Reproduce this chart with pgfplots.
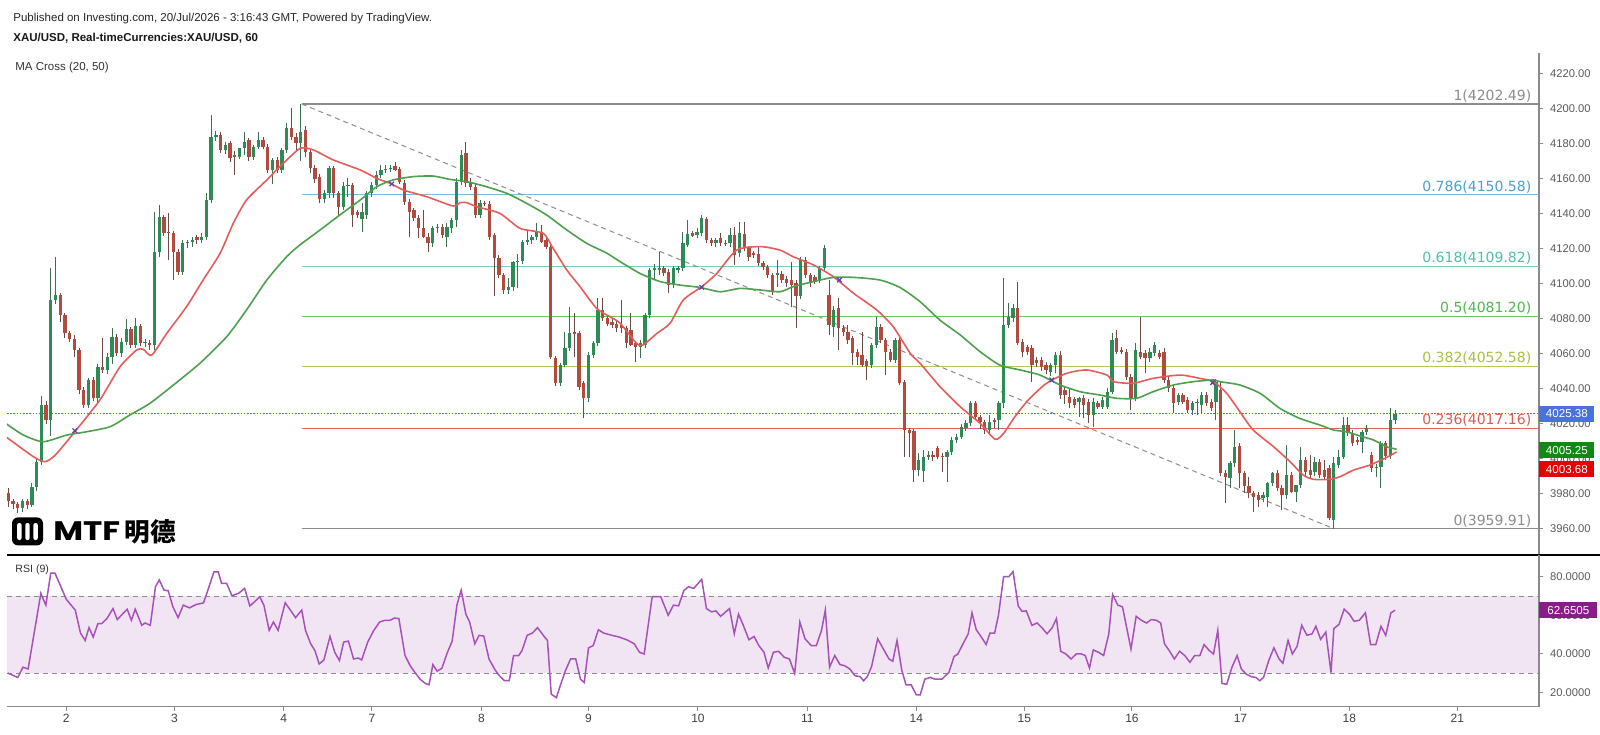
\documentclass[border=0pt]{standalone}
\usepackage{pgfplots}
\pgfplotsset{compat=1.18}
\usepackage{pgfplotstable}
\usepackage{fontspec}
\setmainfont{Liberation Sans}
\newfontfamily\dejavu{DejaVu Sans}
\newfontfamily\cjk{Noto Sans CJK SC}
\newfontfamily\pop{Poppins}
\definecolor{upc}{HTML}{2E8B57}
\definecolor{upw}{HTML}{3F6F52}
\definecolor{dnc}{HTML}{B24A40}
\definecolor{dnw}{HTML}{6E4A45}
\definecolor{maR}{HTML}{E35D5B}
\definecolor{maG}{HTML}{4E9F4E}
\definecolor{axgray}{HTML}{8A8A8A}
\definecolor{labgray}{HTML}{5A5A5A}
\definecolor{fibgray}{HTML}{8C8C8C}
\definecolor{fibblueL}{HTML}{7DBBD8}
\definecolor{fibblueT}{HTML}{4A9FD0}
\definecolor{fibtealL}{HTML}{7FC9C6}
\definecolor{fibtealT}{HTML}{50BDB0}
\definecolor{fibgrnL}{HTML}{66C866}
\definecolor{fibgrnT}{HTML}{4DB84D}
\definecolor{fibyelL}{HTML}{B2C858}
\definecolor{fibyelT}{HTML}{A8C040}
\definecolor{fibredL}{HTML}{E06666}
\definecolor{fibredT}{HTML}{E05A55}
\definecolor{curblue}{HTML}{4A72DC}
\definecolor{boxgreen}{HTML}{118A11}
\definecolor{boxred}{HTML}{E60000}
\definecolor{boxpurp}{HTML}{8B1A8B}
\definecolor{band}{HTML}{F2E5F3}
\definecolor{rsic}{HTML}{A652B8}
\definecolor{crossc}{HTML}{5A3FA8}

\pgfplotstableread{
i o h l c
0 3980.4 3982.9 3972.4 3975.8
1 3975.8 3977.0 3971.0 3973.9
2 3973.9 3975.0 3969.0 3971.5
3 3971.5 3977.0 3969.5 3975.8
4 3975.8 3977.0 3971.0 3973.5
5 3973.5 3986.0 3972.0 3983.8
6 3983.8 3999.5 3981.5 3998.1
7 3998.1 4035.5 3996.0 4030.5
8 4030.5 4033.0 4019.5 4021.9
9 4021.9 4108.6 4013.0 4090.5
10 4090.5 4115.0 4088.0 4093.3
11 4093.3 4094.5 4078.0 4081.9
12 4081.9 4083.0 4069.0 4071.4
13 4071.4 4073.0 4066.5 4068.0
14 4068.0 4070.5 4058.0 4061.9
15 4061.9 4063.0 4037.0 4039.1
16 4039.1 4041.0 4029.0 4030.5
17 4030.5 4046.0 4028.5 4044.8
18 4044.8 4046.5 4032.5 4034.3
19 4034.3 4054.0 4032.0 4052.4
20 4052.4 4068.5 4048.5 4050.5
21 4050.5 4060.0 4048.0 4058.1
22 4058.1 4074.3 4054.0 4069.5
23 4069.5 4071.0 4058.5 4060.0
24 4060.0 4068.5 4058.0 4066.7
25 4066.7 4079.5 4065.0 4073.7
26 4073.7 4075.0 4063.0 4064.8
27 4064.8 4080.0 4063.0 4075.6
28 4075.6 4077.0 4064.0 4065.7
29 4065.7 4068.0 4063.5 4066.0
30 4066.0 4067.5 4062.0 4064.8
31 4064.8 4141.0 4062.0 4118.1
32 4118.1 4144.8 4115.0 4137.7
33 4137.7 4139.0 4127.0 4129.0
34 4129.0 4140.0 4113.5 4128.6
35 4128.6 4130.0 4101.9 4118.1
36 4118.1 4119.5 4105.0 4106.7
37 4106.7 4124.5 4105.0 4122.9
38 4122.9 4125.0 4120.0 4123.8
39 4123.8 4126.5 4121.0 4124.8
40 4126.7 4127.5 4122.5 4124.8
41 4124.8 4128.5 4123.0 4126.7
42 4126.7 4151.4 4124.8 4147.6
43 4147.6 4196.2 4146.0 4183.4
44 4183.4 4187.0 4181.5 4184.8
45 4184.8 4186.5 4174.5 4176.2
46 4176.2 4180.5 4174.0 4179.1
47 4180.0 4181.5 4169.5 4171.4
48 4173.3 4175.5 4162.0 4172.4
49 4172.4 4177.5 4171.0 4177.2
50 4177.2 4186.7 4173.5 4181.0
51 4181.9 4183.0 4170.0 4172.4
52 4172.4 4179.0 4170.5 4178.1
53 4178.1 4186.7 4177.0 4181.9
54 4181.9 4183.5 4176.5 4178.1
55 4178.1 4179.5 4163.0 4164.8
56 4164.8 4171.5 4157.0 4170.5
57 4170.5 4172.0 4163.0 4164.8
58 4164.8 4177.5 4163.0 4176.2
59 4176.2 4191.8 4174.5 4188.6
60 4188.6 4200.0 4182.0 4183.8
61 4183.8 4186.0 4175.0 4180.0
62 4180.0 4202.49 4170.0 4186.7
63 4187.6 4190.0 4172.0 4175.2
64 4175.2 4177.0 4163.0 4165.7
65 4165.7 4167.5 4157.5 4159.4
66 4161.0 4162.5 4145.7 4148.0
67 4148.0 4153.5 4146.0 4151.4
68 4151.4 4167.0 4149.0 4165.7
69 4165.7 4167.0 4149.0 4151.4
70 4151.4 4153.0 4138.0 4143.8
71 4143.8 4158.0 4142.0 4155.6
72 4155.6 4160.0 4149.5 4156.2
73 4156.0 4157.5 4132.4 4139.1
74 4140.5 4142.0 4137.5 4139.1
75 4136.5 4146.0 4129.5 4141.0
76 4139.0 4153.0 4136.5 4151.4
77 4151.4 4158.0 4149.5 4156.2
78 4156.2 4164.0 4154.0 4162.0
79 4162.0 4167.6 4160.0 4164.8
80 4164.8 4167.5 4163.0 4165.5
81 4165.2 4167.4 4163.5 4165.7
82 4167.0 4169.3 4164.0 4165.0
83 4165.2 4166.5 4156.5 4158.1
84 4157.5 4159.0 4145.0 4146.7
85 4146.7 4148.0 4126.7 4141.0
86 4141.9 4143.0 4135.5 4137.2
87 4137.2 4139.0 4125.7 4131.4
88 4131.4 4142.0 4125.7 4126.7
89 4126.7 4128.5 4118.1 4122.9
90 4122.9 4133.0 4121.0 4131.4
91 4131.4 4134.0 4128.5 4132.4
92 4132.4 4134.0 4126.0 4127.6
93 4126.7 4134.3 4121.0 4132.4
94 4131.4 4137.5 4129.0 4136.2
95 4136.2 4160.0 4132.4 4158.1
96 4158.1 4176.2 4156.0 4173.3
97 4174.3 4181.0 4155.0 4157.2
98 4158.1 4160.0 4153.5 4155.2
99 4155.2 4156.5 4137.2 4139.1
100 4139.1 4147.5 4137.5 4145.7
101 4145.7 4147.0 4144.0 4145.3
102 4145.3 4147.0 4125.0 4126.7
103 4127.6 4129.0 4092.8 4114.3
104 4114.3 4116.0 4103.0 4104.8
105 4104.8 4106.0 4094.0 4096.0
106 4096.0 4103.0 4094.0 4098.1
107 4098.1 4113.0 4095.5 4112.4
108 4112.4 4117.0 4097.2 4113.0
109 4113.0 4125.0 4111.0 4123.8
110 4123.8 4130.5 4122.0 4124.8
111 4124.8 4127.5 4122.5 4126.7
112 4126.7 4134.3 4125.0 4129.5
113 4129.5 4133.3 4123.0 4123.8
114 4124.8 4126.0 4119.5 4121.0
115 4121.0 4122.0 4057.0 4058.1
116 4057.2 4058.5 4041.5 4042.9
117 4042.9 4054.5 4041.5 4053.3
118 4053.3 4072.4 4052.0 4062.9
119 4062.9 4086.7 4061.5 4071.4
120 4072.4 4082.8 4058.1 4071.0
121 4071.4 4073.0 4039.0 4041.0
122 4042.9 4044.0 4022.9 4034.3
123 4034.3 4060.5 4032.0 4059.1
124 4059.1 4067.0 4057.5 4065.7
125 4065.7 4091.4 4064.0 4084.8
126 4084.8 4091.4 4078.5 4080.0
127 4080.0 4081.5 4075.5 4077.0
128 4078.1 4079.5 4074.5 4076.2
129 4077.0 4078.5 4072.0 4074.3
130 4076.2 4090.5 4071.4 4074.3
131 4074.3 4075.5 4062.9 4065.7
132 4073.3 4082.8 4064.0 4064.8
133 4065.7 4067.0 4055.2 4063.8
134 4063.8 4067.6 4057.6 4065.7
135 4064.8 4083.0 4063.0 4081.9
136 4081.9 4108.6 4080.0 4107.6
137 4107.6 4111.0 4101.9 4108.6
138 4107.6 4118.1 4105.0 4108.6
139 4108.6 4110.0 4104.0 4105.7
140 4106.7 4108.0 4094.3 4099.0
141 4099.0 4110.0 4097.5 4108.6
142 4107.6 4110.0 4106.0 4108.6
143 4108.6 4129.5 4107.0 4122.9
144 4122.0 4136.2 4120.5 4128.2
145 4128.6 4130.0 4126.5 4127.1
146 4127.6 4131.5 4126.0 4129.5
147 4128.6 4139.1 4127.0 4137.2
148 4136.6 4138.1 4123.0 4124.8
149 4124.8 4126.0 4121.5 4122.9
150 4122.9 4126.0 4121.0 4124.8
151 4125.7 4128.6 4121.5 4122.9
152 4123.3 4125.0 4121.5 4122.3
153 4122.9 4131.4 4121.0 4127.6
154 4127.6 4132.4 4110.5 4116.2
155 4117.2 4135.2 4115.0 4128.6
156 4128.2 4135.2 4118.5 4120.0
157 4120.0 4121.5 4113.0 4115.2
158 4117.2 4118.5 4114.5 4116.2
159 4116.8 4121.0 4110.0 4111.8
160 4111.8 4113.0 4107.6 4109.1
161 4109.1 4110.5 4103.0 4104.8
162 4104.8 4106.0 4093.5 4095.2
163 4105.0 4113.3 4098.0 4105.7
164 4105.3 4107.0 4100.0 4101.9
165 4102.3 4104.0 4098.0 4100.0
166 4101.9 4112.4 4086.7 4099.0
167 4100.4 4102.0 4074.3 4092.8
168 4092.8 4115.0 4091.0 4113.3
169 4113.3 4115.0 4103.0 4104.8
170 4104.8 4106.0 4098.0 4100.0
171 4103.8 4105.0 4099.5 4101.0
172 4102.0 4110.0 4100.0 4108.6
173 4108.6 4122.0 4107.0 4120.0
174 4093.3 4101.9 4070.5 4076.2
175 4075.2 4087.0 4069.5 4084.8
176 4085.7 4091.4 4062.0 4074.3
177 4074.3 4076.0 4070.0 4072.4
178 4072.4 4076.2 4065.5 4067.6
179 4068.6 4070.0 4053.3 4060.0
180 4061.0 4062.5 4053.3 4058.1
181 4059.1 4072.4 4052.0 4053.3
182 4055.8 4057.0 4044.8 4052.8
183 4053.3 4066.0 4051.5 4064.8
184 4064.8 4081.0 4063.0 4075.2
185 4075.2 4077.0 4066.0 4067.6
186 4067.6 4069.0 4047.6 4061.0
187 4061.0 4062.5 4055.0 4056.2
188 4056.2 4069.0 4054.5 4067.6
189 4067.6 4069.0 4042.0 4042.9
190 4043.8 4045.0 4000.9 4016.2
191 4016.2 4017.5 4001.0 4014.3
192 4015.8 4017.0 3986.7 3993.3
193 3993.3 4003.0 3990.0 3999.0
194 3993.0 4005.0 3986.7 4001.0
195 4001.0 4004.0 3999.0 4002.0
196 4002.0 4004.0 3998.5 4001.0
197 4005.7 4007.0 3999.5 4001.0
198 4001.5 4003.0 3992.4 4000.6
199 4001.0 4004.5 3986.7 4003.8
200 4003.8 4012.0 4002.0 4010.5
201 4010.5 4014.0 4009.0 4012.4
202 4012.4 4019.5 4011.0 4018.1
203 4017.2 4022.0 4015.5 4020.0
204 4020.0 4033.0 4018.5 4031.4
205 4031.4 4033.0 4022.0 4023.8
206 4023.8 4025.0 4016.5 4020.9
207 4020.9 4022.0 4014.0 4016.2
208 4016.2 4024.5 4014.5 4020.9
209 4021.9 4023.0 4017.5 4020.9
210 4021.9 4033.0 4016.2 4031.4
211 4031.4 4102.9 4029.0 4076.2
212 4076.2 4088.6 4074.5 4081.0
213 4080.0 4088.0 4078.0 4085.7
214 4085.7 4101.0 4064.5 4065.7
215 4066.7 4068.0 4058.1 4061.0
216 4063.8 4065.0 4059.0 4061.0
217 4062.9 4064.5 4043.8 4053.3
218 4056.2 4058.0 4052.0 4054.3
219 4056.2 4058.0 4050.0 4052.4
220 4053.3 4055.0 4048.0 4050.5
221 4049.5 4054.5 4047.0 4053.3
222 4053.3 4061.0 4048.6 4059.1
223 4059.1 4061.5 4034.0 4036.2
224 4039.1 4040.5 4031.0 4036.2
225 4035.3 4040.0 4028.6 4031.4
226 4033.7 4035.0 4029.0 4030.5
227 4032.4 4035.0 4023.8 4034.3
228 4034.3 4036.0 4022.9 4030.5
229 4032.4 4034.0 4020.0 4024.8
230 4024.8 4034.3 4018.1 4032.4
231 4031.4 4033.0 4028.0 4029.5
232 4029.5 4035.0 4028.0 4033.3
233 4029.5 4040.0 4028.0 4038.1
234 4038.1 4071.4 4036.5 4067.6
235 4068.6 4073.3 4059.5 4061.0
236 4061.9 4063.5 4059.5 4061.0
237 4061.0 4062.5 4045.0 4046.7
238 4046.7 4048.0 4027.6 4034.3
239 4034.3 4065.7 4033.0 4061.9
240 4061.0 4081.0 4057.0 4058.1
241 4060.0 4062.0 4048.6 4057.2
242 4057.2 4063.0 4055.0 4061.0
243 4060.0 4066.7 4058.5 4064.8
244 4060.0 4062.0 4056.5 4058.1
245 4061.0 4063.0 4043.0 4044.8
246 4044.8 4046.5 4038.0 4040.0
247 4040.0 4041.5 4025.7 4031.4
248 4032.4 4037.5 4030.5 4036.2
249 4036.2 4037.5 4031.0 4032.4
250 4033.3 4035.0 4026.0 4027.6
251 4027.6 4033.0 4025.0 4031.4
252 4031.4 4034.0 4025.0 4032.4
253 4030.5 4038.0 4025.7 4036.2
254 4036.2 4038.0 4030.0 4031.4
255 4032.4 4034.0 4027.0 4028.6
256 4032.4 4045.5 4021.9 4043.8
257 4039.0 4044.0 3990.0 3991.8
258 3991.8 3993.5 3974.3 3989.5
259 3988.5 3998.5 3983.0 3997.1
260 3997.1 4016.2 3995.0 4006.6
261 4007.0 4008.5 3982.8 3991.4
262 3991.4 3993.0 3980.0 3984.2
263 3984.2 3989.5 3977.1 3980.0
264 3980.0 3981.5 3969.5 3978.1
265 3979.0 3980.5 3972.4 3976.2
266 3977.1 3980.5 3975.0 3979.0
267 3978.1 3986.5 3972.4 3985.7
268 3985.7 3992.4 3984.0 3991.8
269 3991.8 3993.5 3981.5 3982.8
270 3982.8 3984.5 3970.5 3979.0
271 3979.0 4007.6 3977.0 3990.5
272 3990.5 3992.0 3980.0 3981.0
273 3981.0 3985.0 3975.2 3984.8
274 3984.8 4006.6 3983.0 3999.0
275 3999.0 4000.5 3990.0 3992.4
276 3993.3 4001.9 3988.5 3990.5
277 3992.4 4000.5 3990.0 3998.1
278 3998.1 3999.5 3989.0 3990.5
279 3993.3 3999.0 3988.0 3989.5
280 3994.3 3996.0 3964.7 3965.7
281 3964.7 4000.9 3959.91 3997.1
282 3996.2 4004.7 3994.5 4001.0
283 4001.0 4023.8 3999.5 4019.0
284 4019.0 4023.8 4013.0 4014.3
285 4014.3 4016.0 4007.0 4008.5
286 4010.4 4012.0 4007.5 4009.5
287 4009.5 4016.0 4002.8 4015.2
288 4015.2 4019.0 4013.5 4017.1
289 4001.9 4003.5 3992.0 3994.3
290 3994.3 3996.5 3989.5 3995.2
291 3995.2 4010.0 3982.8 4008.5
292 4008.5 4010.0 3999.0 4001.3
293 4001.3 4028.5 3999.5 4021.9
294 4021.9 4027.4 4019.5 4025.38
}\candles

\begin{document}
\begin{tikzpicture}
% header texts
\node[anchor=west, inner sep=0pt, text=black!85, font=\fontsize{5.75}{6.5}\selectfont] at (6.5pt,357.9pt) {Published on Investing.com, 20/Jul/2026 - 3:16:43 GMT, Powered by TradingView.};
\node[anchor=west, inner sep=0pt, text=black!90, font=\bfseries\fontsize{5.75}{6.5}\selectfont] at (6.5pt,347.7pt) {XAU/USD, Real-timeCurrencies:XAU/USD, 60};
\node[anchor=west, inner sep=0pt, text=black!80, font=\fontsize{5.75}{6.5}\selectfont] at (7.5pt,333.4pt) {MA Cross (20, 50)};

% ===== main price panel =====
\begin{axis}[
  at={(3.5pt,89.35pt)}, anchor=south west,
  width=766pt, height=251.3pt, scale only axis,
  xmin=-0.276, xmax=324.5, ymin=3944.6, ymax=4231.8,
  axis line style={draw=none},
  xtick=\empty,
  ytick pos=right, yticklabel pos=right,
  ytick={3960,3980,4000,4020,4040,4060,4080,4100,4120,4140,4160,4180,4200,4220},
  yticklabels={3960.00,3980.00,4000.00,4020.00,4040.00,4060.00,4080.00,4100.00,4120.00,4140.00,4160.00,4180.00,4200.00,4220.00},
  tick align=outside, major tick length=2pt,
  tick style={draw=axgray, line width=0.5pt},
  yticklabel style={font=\fontsize{5.6}{6}\selectfont, text=labgray},
  clip mode=individual,
]
\draw[axgray, line width=0.6pt] (rel axis cs:1,0) -- (rel axis cs:1,1);
% fibonacci levels
\addplot[fibgray, line width=0.6pt] coordinates {(62.2,4202.49) (324.5,4202.49)};
\addplot[fibblueL, line width=0.6pt] coordinates {(62.2,4150.58) (324.5,4150.58)};
\addplot[fibtealL, line width=0.6pt] coordinates {(62.2,4109.82) (324.5,4109.82)};
\addplot[fibgrnL, line width=0.6pt] coordinates {(62.2,4081.20) (324.5,4081.20)};
\addplot[fibyelL, line width=0.6pt] coordinates {(62.2,4052.58) (324.5,4052.58)};
\addplot[fibredL, line width=0.6pt] coordinates {(62.2,4017.16) (324.5,4017.16)};
\addplot[fibgray, line width=0.6pt] coordinates {(62.2,3959.91) (324.5,3959.91)};
% trend line
\addplot[fibgray, line width=0.5pt, dash pattern=on 2.5pt off 2pt] coordinates {(62.2,4202.49) (280.9,3959.91)};
% current price line
\addplot[curblue, line width=0.5pt, dash pattern=on 0.8pt off 0.8pt] coordinates {(-0.276,4025.38) (324.5,4025.38)};

% wicks
\addplot[draw=none, mark=none, restrict expr to domain={\thisrow{c}-\thisrow{o}}{0:1000},
  error bars/.cd, y dir=plus, y explicit, error mark=none,
  error bar style={draw=upw, line width=0.5pt, solid}]
  table[x=i, y=l, y error expr=\thisrow{h}-\thisrow{l}] {\candles};
\addplot[draw=none, mark=none, restrict expr to domain={\thisrow{c}-\thisrow{o}}{-1000:-0.0001},
  error bars/.cd, y dir=plus, y explicit, error mark=none,
  error bar style={draw=dnw, line width=0.5pt, solid}]
  table[x=i, y=l, y error expr=\thisrow{h}-\thisrow{l}] {\candles};
% bodies
\addplot[draw=none, mark=none, restrict expr to domain={\thisrow{c}-\thisrow{o}}{0:1000},
  error bars/.cd, y dir=plus, y explicit, error mark=none,
  error bar style={draw=upc, line width=1.65pt, solid}]
  table[x=i, y=o, y error expr={max(\thisrow{c}-\thisrow{o},0.5)}] {\candles};
\addplot[draw=none, mark=none, restrict expr to domain={\thisrow{c}-\thisrow{o}}{-1000:-0.0001},
  error bars/.cd, y dir=plus, y explicit, error mark=none,
  error bar style={draw=dnc, line width=1.65pt, solid}]
  table[x=i, y=c, y error expr={max(\thisrow{o}-\thisrow{c},0.5)}] {\candles};

% MA 20
\addplot[maR, line width=0.8pt, smooth, tension=0.4] coordinates {
(-0.35,4012.0) (5.3,4001) (7.8,3998.1) (10,4002) (14.1,4015.2) (19.4,4033.3) (23.7,4052.4) (27.2,4061.9) (28.6,4062.3) (30.4,4059) (33.6,4071.4) (37.8,4086.7) (41.3,4101.9) (44.9,4117.2) (47.7,4134.3) (50.5,4147.6) (54.8,4159.1) (58.3,4168.6) (61.9,4177.2) (64.7,4176.2) (68.9,4170.5) (74.6,4164.8) (78.1,4160) (80.9,4157.2) (83.8,4153.3) (88.7,4149.5) (94.3,4144.2) (95.8,4146.1) (97.2,4146.1) (99.3,4143.8) (104.2,4140) (108.5,4131.4) (113.4,4128.6) (115.5,4120) (118.4,4107.6) (121.2,4098.1) (124.7,4085.7) (127.5,4081) (129.7,4077.2) (133.2,4065.7) (134.6,4064.8) (137.5,4071.4) (140.3,4077.2) (143.1,4090.5) (147,4098.1) (150.2,4105.7) (154.4,4119) (159.4,4121) (163.6,4119) (166.4,4115.2) (170.7,4110.5) (174.9,4103.8) (179.2,4094.3) (184.1,4084.8) (187.6,4075.2) (191.2,4060) (193.3,4054.3) (197.5,4041) (201.8,4029.5) (206,4020) (209.2,4010.9) (211,4014.3) (213.4,4023.8) (216.2,4033.3) (220.1,4042.9) (224.4,4048.6) (228.6,4050.5) (232.9,4047.6) (234.3,4043.8) (238.5,4042.9) (242.7,4045.7) (248.4,4047.6) (252.6,4045.7) (255.5,4043.8) (258.3,4037.1) (261.1,4026.6) (263.9,4016.2) (268.2,4006.7) (271.7,3998.1) (274.5,3990.5) (276.7,3988) (280.2,3988) (282.3,3989.5) (285.2,3993.3) (288.7,3996.2) (292.2,4000.5) (294.3,4003.68)};
% MA 50
\addplot[maG, line width=0.8pt, smooth, tension=0.4] coordinates {
(-0.35,4019.6) (3.2,4013.3) (7.4,4009.5) (12.4,4013.3) (16.6,4015.2) (21.6,4018.1) (25.8,4024.8) (30,4031.4) (35,4041.9) (40.6,4054.3) (46.3,4069.5) (50.5,4084.8) (54.8,4101.9) (59,4115.2) (61.8,4121.9) (66.1,4130.5) (70.3,4139.1) (74.6,4147.6) (78.1,4155.2) (81.6,4159.1) (85.9,4161) (90.1,4161.3) (93.6,4159.4) (97.2,4158.1) (101.4,4155.2) (105.7,4151.4) (109.9,4145.7) (114.1,4139.1) (118.4,4130.5) (122.6,4122.9) (126.9,4117.2) (129.7,4112.4) (133.9,4105.7) (138.2,4101) (142.4,4099) (146.6,4097.7) (150.9,4095.2) (155.1,4097.1) (159.4,4096.2) (163.6,4095.2) (166.4,4098.1) (170.7,4101) (174.9,4103.4) (179.2,4103.4) (184.8,4101.9) (189,4097.7) (193.3,4089.5) (197.5,4079) (201.8,4070.5) (206,4061) (210.2,4053.3) (214.5,4050.5) (218.7,4047.6) (223,4041.9) (227.2,4038.1) (231.4,4036.2) (235,4034.3) (239.2,4034.3) (242.7,4038.1) (247,4041.9) (251.2,4043.8) (255.5,4044.8) (256.9,4043.8) (261.1,4041.9) (265.4,4037.1) (269.6,4028.5) (273.8,4022.8) (278.1,4019) (280.9,4016.2) (283.7,4015.2) (286.6,4012.7) (289.4,4010.5) (292.2,4006.6) (294.3,4005.25)};
% cross markers
\addplot[only marks, mark=x, mark size=1.6pt, crossc, line width=0.6pt] coordinates {(14.1,4015.8) (81.3,4156.8) (147.0,4097.7) (176.2,4101.9) (221.2,4044.8) (255.3,4043.2)};

% fib labels
\node[anchor=south east, inner sep=0.6pt, text=fibgray, font=\dejavu\fontsize{7}{8}\selectfont] at (axis cs:323.2,4202.49) {1(4202.49)};
\node[anchor=south east, inner sep=0.6pt, text=fibblueT, font=\dejavu\fontsize{7}{8}\selectfont] at (axis cs:323.2,4150.58) {0.786(4150.58)};
\node[anchor=south east, inner sep=0.6pt, text=fibtealT, font=\dejavu\fontsize{7}{8}\selectfont] at (axis cs:323.2,4109.82) {0.618(4109.82)};
\node[anchor=south east, inner sep=0.6pt, text=fibgrnT, font=\dejavu\fontsize{7}{8}\selectfont] at (axis cs:323.2,4081.20) {0.5(4081.20)};
\node[anchor=south east, inner sep=0.6pt, text=fibyelT, font=\dejavu\fontsize{7}{8}\selectfont] at (axis cs:323.2,4052.58) {0.382(4052.58)};
\node[anchor=south east, inner sep=0.6pt, text=fibredT, font=\dejavu\fontsize{7}{8}\selectfont] at (axis cs:323.2,4017.16) {0.236(4017.16)};
\node[anchor=south east, inner sep=0.6pt, text=fibgray, font=\dejavu\fontsize{7}{8}\selectfont] at (axis cs:323.2,3959.91) {0(3959.91)};

% price boxes
\node[anchor=west, fill=curblue, text=white, inner xsep=0pt, inner ysep=0pt, minimum width=27.5pt, minimum height=8pt, font=\fontsize{5.8}{6}\selectfont] at (axis cs:324.5,4025.38) {4025.38};
\node[anchor=west, fill=boxgreen, text=white, inner xsep=0pt, inner ysep=0pt, minimum width=27.5pt, minimum height=8pt, font=\fontsize{5.8}{6}\selectfont] at (axis cs:324.5,4004.5) {4005.25};
\node[anchor=west, fill=boxred, text=white, inner xsep=0pt, inner ysep=0pt, minimum width=27.5pt, minimum height=8pt, font=\fontsize{5.8}{6}\selectfont] at (axis cs:324.5,3993.9) {4003.68};
\end{axis}

% logo
\fill[black, rounded corners=3pt] (6pt,94.3pt) rectangle (21.5pt,108.3pt);
\fill[white, rounded corners=1pt] (8.6pt,97pt) rectangle (10.8pt,105.5pt);
\fill[white, rounded corners=1pt] (12.65pt,97pt) rectangle (14.85pt,105.5pt);
\fill[white, rounded corners=1pt] (16.7pt,97pt) rectangle (18.9pt,105.5pt);
\node[anchor=west, inner sep=0pt, font=\pop\bfseries\fontsize{13}{14}\selectfont] at (26.5pt,101.3pt) {\scalebox{1.25}[1.03]{MTF}};
\node[anchor=west, inner sep=0pt, font=\cjk\bfseries\fontsize{12.8}{14}\selectfont] at (62.2pt,101.3pt) {明德};

% separator
\draw[black, line width=0.9pt] (3.5pt,89.35pt) -- (800pt,89.35pt);

% ===== RSI panel =====
\begin{axis}[
  at={(3.5pt,13.65pt)}, anchor=south west,
  width=766pt, height=75.7pt, scale only axis,
  xmin=-0.276, xmax=324.5, ymin=12.5, ymax=91.2,
  axis line style={draw=none},
  xtick pos=bottom, ytick pos=right, xticklabel pos=bottom, yticklabel pos=right,
  xtick={12.3,35.2,58.4,77.1,100.3,123.0,146.2,169.4,192.5,215.4,238.2,261.2,284.3,307.2},
  xticklabels={2,3,4,7,8,9,10,11,14,15,16,17,18,21},
  ytick={20,40,60,80},
  yticklabels={20.0000,40.0000,60.0000,80.0000},
  tick align=outside, major tick length=2pt,
  tick style={draw=axgray, line width=0.5pt},
  yticklabel style={font=\fontsize{5.6}{6}\selectfont, text=labgray},
  xticklabel style={font=\fontsize{6}{7}\selectfont, text=black!75, anchor=north, inner sep=0pt, yshift=-1.5pt},
  clip mode=individual,
]
\addplot[draw=none, fill=band] coordinates {(-0.276,30) (324.5,30) (324.5,70) (-0.276,70)} -- cycle;
\addplot[axgray, line width=0.5pt, dash pattern=on 2.5pt off 2pt] coordinates {(-0.276,70) (324.5,70)};
\addplot[axgray, line width=0.5pt, dash pattern=on 2.5pt off 2pt] coordinates {(-0.276,30) (324.5,30)};
\draw[axgray, line width=0.6pt] (rel axis cs:0,0) -- (rel axis cs:1,0) -- (rel axis cs:1,1);
\addplot[rsic, line width=0.75pt] coordinates {
(-0.14,30) (2.0,27.7) (3.1,33) (4.2,32.1) (6.9,71.4) (7.96,65.3) (9.0,81.9) (9.9,81.9) (12.3,68.3) (14.2,62.7) (15.3,50.8) (16.3,46.9) (17.1,53.6) (18.0,48.7) (19.0,55.7) (19.8,55.7) (20.9,58.3) (22.2,63.5) (23.1,57.8) (25.2,63.2) (26.1,57.4) (26.9,63.2) (28.3,54.8) (29.0,56.0) (30.1,54.8) (31.2,74.9) (32.0,78.4) (33.0,73.1) (33.9,72.8) (34.9,64.4) (36.0,58.8) (37.1,65.3) (38.4,63.9) (39.8,65.6) (41.4,66.5) (43.6,82.6) (44.5,82.6) (45.2,76.6) (46.3,76.6) (47.4,70.2) (48.8,71.4) (50.1,74.0) (51.2,64.9) (52.2,67.0) (53.3,69.7) (54.2,65.1) (55.3,52.2) (56.2,56.5) (57.2,52.2) (58.7,66.5) (59.8,62.7) (60.9,58.8) (62.2,62.7) (63.0,52.2) (64.1,45.2) (65.0,41.7) (65.9,34.7) (66.9,36.8) (68.2,49.0) (69.2,40.8) (70.2,36.5) (71.1,46.1) (72.1,46.6) (73.2,37.3) (74.2,37.8) (74.9,36.8) (76.2,46.1) (77.4,51.8) (78.7,56.5) (79.8,57.4) (80.9,57.4) (81.9,58.6) (82.8,58.3) (84.1,39.1) (85.2,33.8) (86.2,30.3) (87.3,26.8) (88.4,24.6) (89.2,23.9) (90.0,34.4) (90.9,31.0) (91.9,32.4) (93.1,40.8) (94.1,46.6) (95.1,65.3) (96.0,73.1) (97.0,60.6) (97.8,56.5) (98.9,45.2) (99.8,49.6) (100.8,49.2) (101.9,37.3) (103.2,31.6) (104.1,28.6) (105.2,26.0) (106.2,26.0) (107.1,39.1) (108.2,39.1) (108.9,41.7) (110.0,49.6) (111.1,50.8) (112.2,53.6) (113.6,49.0) (114.3,46.9) (115.1,19.0) (116.2,17.2) (117.0,23.4) (118.1,31.2) (119.2,37.3) (120.3,37.3) (121.3,26.8) (122.1,25.1) (123.0,43.1) (124.0,44.3) (125.1,52.5) (126.2,50.8) (127.8,49.7) (129.5,48.7) (131.1,47.3) (132.7,45.2) (133.8,40.8) (134.8,39.9) (136.5,69.7) (138.3,69.7) (139.9,60.0) (141.0,65.3) (142.1,64.9) (143.2,72.8) (144.2,74.9) (145.3,74.0) (147.0,78.7) (148.0,63.5) (149.1,61.8) (150.0,62.3) (151.0,59.5) (152.9,63.5) (153.9,50.4) (154.8,60.6) (155.9,54.3) (157.0,47.3) (158.1,49.0) (159.1,44.3) (160.2,40.8) (161.1,32.6) (162.2,40.8) (163.3,41.3) (164.5,38.2) (165.6,37.3) (166.7,29.8) (167.8,56.5) (168.9,47.8) (170.2,44.3) (171.3,44.3) (172.4,52.2) (173.2,62.7) (174.1,33.0) (175.2,39.1) (176.3,34.4) (177.3,33.8) (178.4,32.1) (179.5,28.6) (180.6,28.1) (181.3,26.0) (182.1,28.1) (183.0,33.3) (184.3,47.8) (185.3,43.4) (186.7,37.3) (187.5,36.1) (188.4,46.9) (189.4,31.6) (190.3,23.9) (191.4,23.9) (192.5,18.6) (193.3,18.6) (194.3,26.8) (195.4,27.7) (196.5,26.8) (197.9,26.8) (199.4,30.3) (200.5,38.6) (201.3,39.9) (202.4,45.2) (203.5,50.4) (204.3,61.3) (205.2,52.5) (206.2,49.0) (207.3,44.8) (208.1,50.8) (209.1,50.8) (209.9,60.0) (211.0,80.1) (212.1,80.1) (213.0,82.7) (214.1,64.8) (214.9,62.1) (215.8,62.3) (217.0,54.8) (218.1,56.0) (219.1,53.6) (220.2,50.4) (221.3,53.6) (222.2,58.3) (223.1,41.3) (224.2,39.9) (225.3,37.3) (226.4,39.9) (227.5,39.9) (228.3,39.1) (229.2,32.6) (230.0,42.0) (231.1,40.8) (232.2,39.1) (233.3,50.4) (234.1,70.9) (235.2,65.3) (236.2,64.4) (237.2,52.2) (238.0,42.5) (239.1,59.5) (240.2,57.4) (241.3,56.0) (242.3,57.8) (243.4,57.4) (244.3,56.0) (245.1,45.2) (246.1,41.7) (247.2,37.3) (248.3,41.3) (249.4,39.1) (250.5,35.6) (251.5,39.1) (252.6,39.1) (253.5,44.8) (254.6,41.7) (255.5,39.9) (256.4,52.2) (257.3,24.6) (258.3,24.2) (259.4,33.0) (260.5,39.1) (261.4,32.1) (262.4,29.5) (263.5,28.1) (264.5,27.7) (265.3,26.0) (266.1,27.7) (267.2,36.5) (268.3,43.1) (269.4,37.3) (270.2,35.1) (271.3,46.9) (272.2,39.9) (273.2,43.8) (274.2,54.8) (275.3,49.6) (276.4,50.4) (277.2,54.3) (278.2,47.5) (279.3,51.3) (280.4,30.3) (281.0,53.1) (282.1,55.3) (283.2,63.2) (284.3,60.6) (285.3,56.9) (286.4,57.4) (287.7,61.3) (288.8,44.8) (289.9,44.8) (291.0,54.3) (292.0,49.6) (293.1,61.3) (294.0,62.65)};
\node[anchor=west, fill=boxpurp, text=white, inner xsep=0pt, inner ysep=0pt, minimum width=29pt, minimum height=8pt, font=\fontsize{5.8}{6}\selectfont] at (axis cs:324.5,62.65) {62.6505};
\end{axis}
\node[anchor=west, inner sep=0pt, text=black!80, font=\fontsize{5.3}{6}\selectfont] at (7.5pt,82pt) {RSI (9)};
\pgfresetboundingbox
\useasboundingbox (0pt,0pt) rectangle (800pt,367pt);
\end{tikzpicture}
\end{document}
